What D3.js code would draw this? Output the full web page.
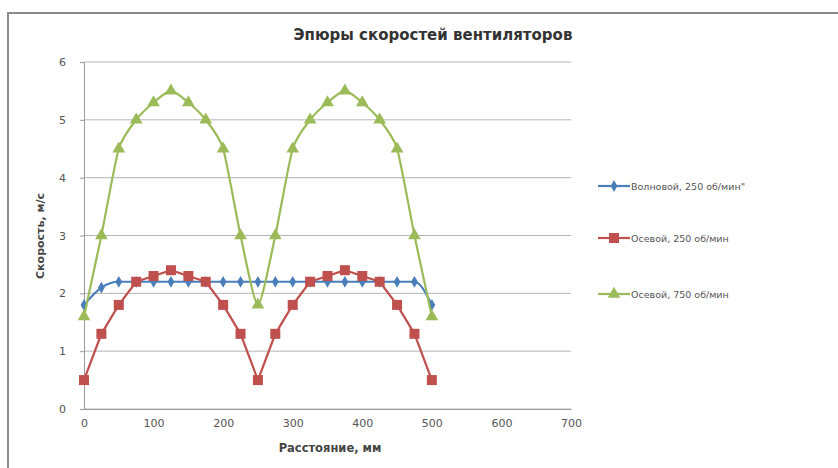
<!DOCTYPE html>
<html>
<head>
<meta charset="utf-8">
<script src="https://cdn.jsdelivr.net/npm/d3@7"></script>
<style>
  body { margin: 0; background: #fff; }
  svg { display: block; }
</style>
</head>
<body>
<svg id="chart" width="838" height="468"></svg>
<script>
const distances = [0, 25, 50, 75, 100, 125, 150, 175, 200, 225, 250, 275, 300, 325, 350, 375, 400, 425, 450, 475, 500];
const seriesNames = ["Волновой, 250 об/мин\"", "Осевой, 250 об/мин", "Осевой, 750 об/мин"];
const wave250 = [1.8, 2.1, 2.2, 2.2, 2.2, 2.2, 2.2, 2.2, 2.2, 2.2, 2.2, 2.2, 2.2, 2.2, 2.2, 2.2, 2.2, 2.2, 2.2, 2.2, 1.8];
const axial250 = [0.5, 1.3, 1.8, 2.2, 2.3, 2.4, 2.3, 2.2, 1.8, 1.3, 0.5, 1.3, 1.8, 2.2, 2.3, 2.4, 2.3, 2.2, 1.8, 1.3, 0.5];
const axial750 = [1.6, 3.0, 4.5, 5.0, 5.3, 5.5, 5.3, 5.0, 4.5, 3.0, 1.8, 3.0, 4.5, 5.0, 5.3, 5.5, 5.3, 5.0, 4.5, 3.0, 1.6];
const xTicks = [0, 100, 200, 300, 400, 500, 600, 700];
const yTicks = [0, 1, 2, 3, 4, 5, 6];
const colors = ["#4A7EBB", "#C0504D", "#9BBB59"];
const markers = [d3.symbolDiamond, d3.symbolSquare, d3.symbolTriangle];
const markerSizes = [40, 100, 70];
const title = "Эпюры скоростей вентиляторов";
const xTitle = "Расстояние, мм";
const yTitle = "Скорость, м/с";

const svg = d3.select("#chart");
const font = "'DejaVu Sans', sans-serif";

// chart frame
svg.append("rect").attr("x", 8).attr("y", 13).attr("width", 840).attr("height", 470)
  .attr("fill", "#fff").attr("stroke", "#8a8a8a").attr("stroke-width", 2);

const x = d3.scaleLinear().domain([0, 700]).range([84, 571]);
const y = d3.scaleLinear().domain([0, 6]).range([409, 62]);

// gridlines
svg.append("g").selectAll("line").data(yTicks).join("line")
  .attr("x1", x(0)).attr("x2", x(700))
  .attr("y1", d => y(d)).attr("y2", d => y(d))
  .attr("stroke", "#b5b5b5").attr("stroke-width", 1);

// y axis
const yAxis = svg.append("g").attr("transform", `translate(${x(0)},0)`)
  .call(d3.axisLeft(y).tickValues(yTicks).tickFormat(d3.format("d")).tickSize(4).tickPadding(14));
yAxis.select(".domain").attr("stroke", "#9a9a9a");
yAxis.selectAll(".tick line").attr("stroke", "#9a9a9a");
yAxis.selectAll("text").attr("font-family", font).attr("font-size", 11).attr("fill", "#555");

// x axis
const xAxis = svg.append("g").attr("transform", `translate(0,${y(0)})`)
  .call(d3.axisBottom(x).tickValues(xTicks).tickFormat(d3.format("d")).tickSize(0).tickPadding(10));
xAxis.select(".domain").attr("stroke", "#9a9a9a");
xAxis.selectAll("text").attr("font-family", font).attr("font-size", 11).attr("fill", "#555");

// title & axis titles
svg.append("text").attr("x", 433).attr("y", 40).attr("text-anchor", "middle")
  .attr("font-family", font).attr("font-weight", "bold").attr("font-size", 15).attr("fill", "#333")
  .text(title);
svg.append("text").attr("x", 330).attr("y", 452).attr("text-anchor", "middle")
  .attr("font-family", font).attr("font-weight", "bold").attr("font-size", 11.5).attr("fill", "#444")
  .text(xTitle);
svg.append("text").attr("transform", "translate(44,236) rotate(-90)").attr("text-anchor", "middle")
  .attr("font-family", font).attr("font-weight", "bold").attr("font-size", 11).attr("fill", "#444")
  .text(yTitle);

// series
const allSeries = [wave250, axial250, axial750];
const curves = [d3.curveMonotoneX, d3.curveLinear, d3.curveCardinal.tension(0.35)];
allSeries.forEach((vals, i) => {
  const pts = distances.map((d, j) => [d, vals[j]]);
  const line = d3.line().x(d => x(d[0])).y(d => y(d[1])).curve(curves[i]);
  svg.append("path").datum(pts).attr("d", line)
    .attr("fill", "none").attr("stroke", colors[i]).attr("stroke-width", 2.2);
  svg.append("g").selectAll("path").data(pts).join("path")
    .attr("transform", d => `translate(${x(d[0])},${y(d[1])})`)
    .attr("d", d3.symbol().type(markers[i]).size(markerSizes[i]))
    .attr("fill", colors[i]);
});

// legend
const legendY = [186, 238, 294];
seriesNames.forEach((name, i) => {
  const g = svg.append("g").attr("transform", `translate(598,${legendY[i]})`);
  g.append("line").attr("x1", 0).attr("x2", 32).attr("y1", 0).attr("y2", 0)
    .attr("stroke", colors[i]).attr("stroke-width", 2.2);
  g.append("path").attr("transform", "translate(16,0)")
    .attr("d", d3.symbol().type(markers[i]).size(markerSizes[i]))
    .attr("fill", colors[i]);
  g.append("text").attr("x", 33).attr("y", 4)
    .attr("font-family", font).attr("font-size", 9.5).attr("fill", "#555")
    .text(name);
});
</script>
</body>
</html>
